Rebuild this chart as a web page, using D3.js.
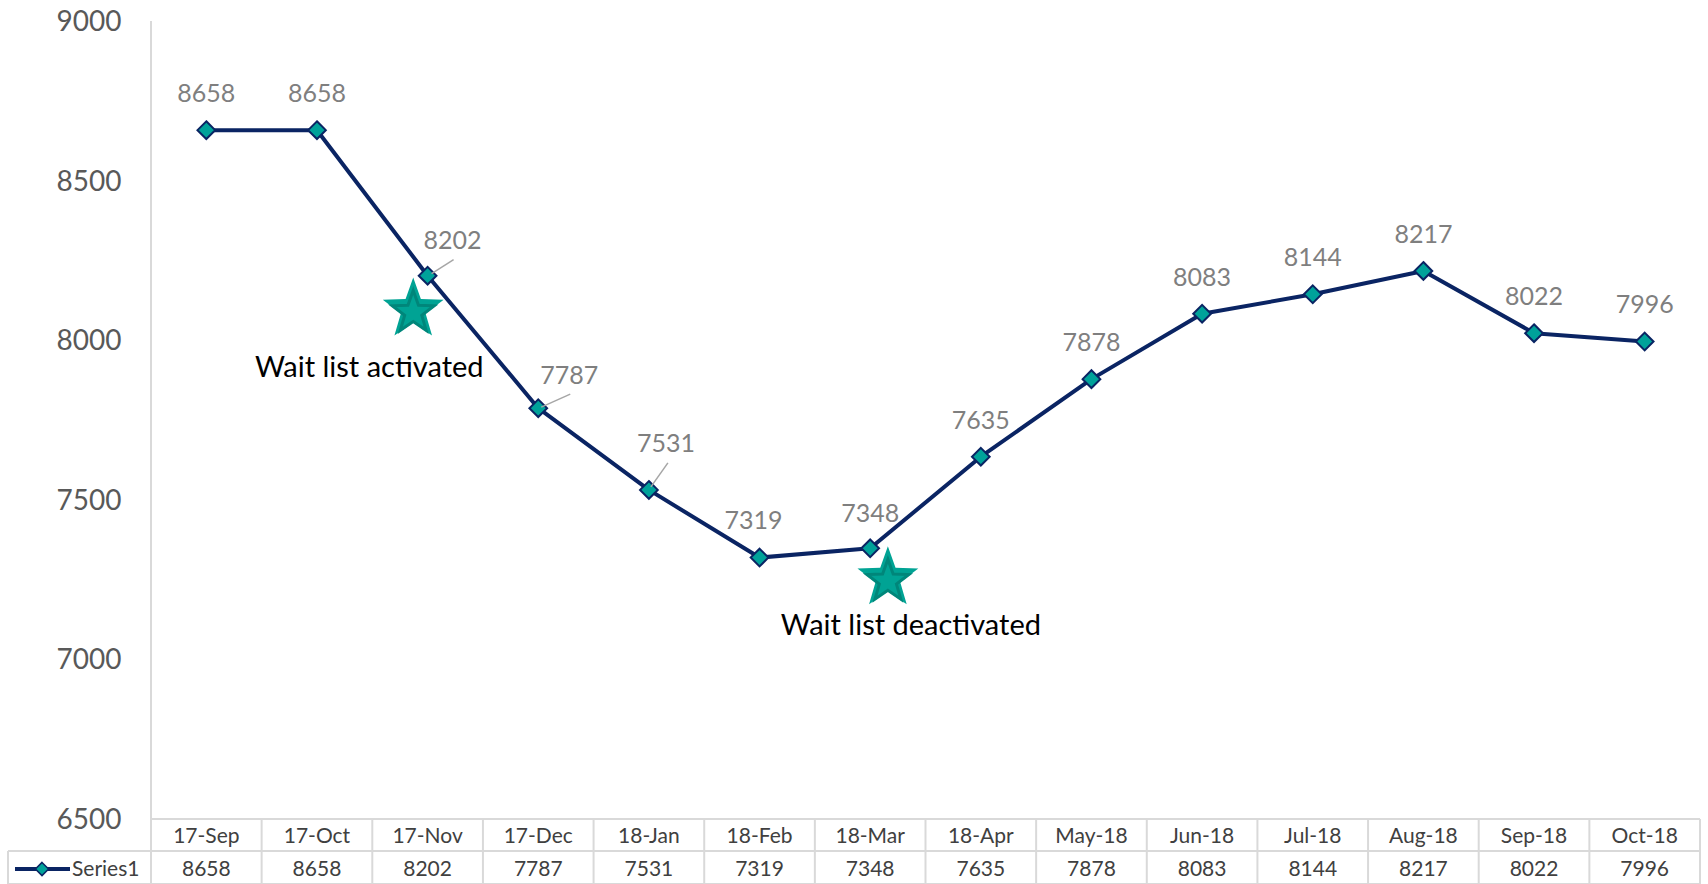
<!DOCTYPE html>
<html>
<head>
<meta charset="utf-8">
<script src="https://cdn.jsdelivr.net/npm/d3@7"></script>
<style>
  html, body { margin: 0; padding: 0; background: #fff; }
  svg { display: block; font-family: Lato, 'Noto Sans', sans-serif; }
</style>
</head>
<body>
<svg id="chart" width="1708" height="884"></svg>
<script>
// chart data
const categories = ['17-Sep', '17-Oct', '17-Nov', '17-Dec', '18-Jan', '18-Feb', '18-Mar',
  '18-Apr', 'May-18', 'Jun-18', 'Jul-18', 'Aug-18', 'Sep-18', 'Oct-18']
const values = [8658, 8658, 8202, 7787, 7531, 7319, 7348, 7635, 7878, 8083, 8144, 8217, 8022, 7996]
const yTicks = [6500, 7000, 7500, 8000, 8500, 9000]
const seriesName = 'Series1'
// annotations: position on the category index scale and value scale
const noteTexts = ['Wait list activated', 'Wait list deactivated']
const noteIndex = [1.87, 6.16]
const noteValues = [8096, 7254]

// layout
const plotLeft = 151
const plotRight = 1700
const plotTop = 21
const plotBottom = 819
const rowH = 32

const svg = d3.select('#chart')

const x = d3.scaleBand().domain(categories).range([plotLeft, plotRight])
const y = d3.scaleLinear().domain([6500, 9000]).range([plotBottom, plotTop])
const xi = d3.scaleLinear()
  .domain([0, categories.length - 1])
  .range([x(categories[0]) + x.bandwidth() / 2, x(categories[categories.length - 1]) + x.bandwidth() / 2])

// y axis line
svg.append('line')
  .attr('x1', plotLeft).attr('x2', plotLeft)
  .attr('y1', plotTop).attr('y2', plotBottom)
  .attr('stroke', '#d9d9d9').attr('stroke-width', 2)

// y tick labels
svg.append('g').selectAll('text')
  .data(yTicks)
  .join('text')
  .attr('x', 89)
  .attr('y', d => y(d) + 10)
  .attr('text-anchor', 'middle')
  .attr('font-size', 28)
  .attr('fill', '#595959')
  .text(d => d)

// data table (acts as x axis)
const table = svg.append('g')
const gridColor = '#d9d9d9'
table.append('line')
  .attr('x1', plotLeft).attr('x2', plotRight)
  .attr('y1', plotBottom).attr('y2', plotBottom)
  .attr('stroke', gridColor).attr('stroke-width', 2)
table.append('line')
  .attr('x1', 8).attr('x2', plotRight)
  .attr('y1', plotBottom + rowH).attr('y2', plotBottom + rowH)
  .attr('stroke', gridColor).attr('stroke-width', 2)
table.append('line')
  .attr('x1', 8).attr('x2', plotRight)
  .attr('y1', plotBottom + 2 * rowH + 1).attr('y2', plotBottom + 2 * rowH + 1)
  .attr('stroke', gridColor).attr('stroke-width', 2)
table.append('line')
  .attr('x1', 8).attr('x2', 8)
  .attr('y1', plotBottom + rowH).attr('y2', 884)
  .attr('stroke', gridColor).attr('stroke-width', 2)
table.selectAll('.col')
  .data(categories)
  .join('line')
  .attr('class', 'col')
  .attr('x1', d => x(d) + x.bandwidth()).attr('x2', d => x(d) + x.bandwidth())
  .attr('y1', plotBottom).attr('y2', 884)
  .attr('stroke', gridColor).attr('stroke-width', 2)
table.append('line')
  .attr('x1', plotLeft).attr('x2', plotLeft)
  .attr('y1', plotBottom).attr('y2', 884)
  .attr('stroke', gridColor).attr('stroke-width', 2)

table.selectAll('.cat')
  .data(categories)
  .join('text')
  .attr('class', 'cat')
  .attr('x', d => x(d) + x.bandwidth() / 2)
  .attr('y', plotBottom + 24)
  .attr('text-anchor', 'middle')
  .attr('font-size', 21)
  .attr('fill', '#404040')
  .text(d => d)

table.selectAll('.val')
  .data(values)
  .join('text')
  .attr('class', 'val')
  .attr('x', (d, i) => x(categories[i]) + x.bandwidth() / 2)
  .attr('y', plotBottom + rowH + 25)
  .attr('text-anchor', 'middle')
  .attr('font-size', 21)
  .attr('fill', '#404040')
  .text(d => d)

// legend key in the table
const navy = '#0a2463'
const teal = '#00a29a'
table.append('line')
  .attr('x1', 15).attr('x2', 70)
  .attr('y1', 869).attr('y2', 869)
  .attr('stroke', navy).attr('stroke-width', 4)
table.append('path')
  .attr('d', d3.symbol(d3.symbolDiamond2, 110)())
  .attr('transform', 'translate(42,869)')
  .attr('fill', teal).attr('stroke', navy).attr('stroke-width', 1.5)
table.append('text')
  .attr('x', 72).attr('y', 876)
  .attr('font-size', 21)
  .attr('fill', '#404040')
  .text(seriesName)

// series line
const line = d3.line()
  .x((d, i) => x(categories[i]) + x.bandwidth() / 2)
  .y(d => y(d))

svg.append('path')
  .datum(values)
  .attr('d', line)
  .attr('fill', 'none')
  .attr('stroke', navy)
  .attr('stroke-width', 4)
  .attr('stroke-linejoin', 'round')

svg.append('g').selectAll('path')
  .data(values)
  .join('path')
  .attr('d', d3.symbol(d3.symbolDiamond2, 200)())
  .attr('transform', (d, i) => `translate(${x(categories[i]) + x.bandwidth() / 2},${y(d)})`)
  .attr('fill', teal)
  .attr('stroke', navy)
  .attr('stroke-width', 2)

// data labels; some are moved off the line with a leader
const labelShift = { 2: [25, -27], 3: [31, -24], 4: [17, -38], 5: [-6, -29], 6: [0, -26] }
const leaders = { 2: [4, -2, 26, -16], 3: [3, -1, 32, -14], 4: [2, -3, 19, -27] }

const labels = svg.append('g')
labels.selectAll('text')
  .data(values)
  .join('text')
  .attr('x', (d, i) => x(categories[i]) + x.bandwidth() / 2 + (labelShift[i] ? labelShift[i][0] : 0))
  .attr('y', (d, i) => y(d) + (labelShift[i] ? labelShift[i][1] : -28))
  .attr('text-anchor', 'middle')
  .attr('font-size', 25)
  .attr('fill', '#7f7f7f')
  .text(d => d)

labels.selectAll('line')
  .data(Object.keys(leaders).map(Number))
  .join('line')
  .attr('x1', i => x(categories[i]) + x.bandwidth() / 2 + leaders[i][0])
  .attr('y1', i => y(values[i]) + leaders[i][1])
  .attr('x2', i => x(categories[i]) + x.bandwidth() / 2 + leaders[i][2])
  .attr('y2', i => y(values[i]) + leaders[i][3])
  .attr('stroke', '#a6a6a6')
  .attr('stroke-width', 1.5)

// stars with notes
function starPath (r1, r2) {
  const pts = d3.range(10).map(k => {
    const a = k * Math.PI / 5
    const r = k % 2 ? r2 : r1
    return [Math.sin(a) * r, -Math.cos(a) * r]
  })
  return 'M' + pts.join('L') + 'Z'
}

const notes = svg.append('g')
noteTexts.forEach((t, k) => {
  const cx = xi(noteIndex[k])
  const cy = y(noteValues[k])
  const g = notes.append('g').attr('transform', `translate(${cx},${cy})`)
  g.append('path')
    .attr('d', starPath(32, 13))
    .attr('fill', '#00a394')
  g.append('path')
    .attr('d', starPath(22, 9))
    .attr('fill', '#00a394')
    .attr('stroke', '#00867a')
    .attr('stroke-width', 3)
    .attr('transform', 'translate(0,3)')
  const dx = k === 0 ? -44 : 23
  const dy = k === 0 ? 67 : 57
  g.append('text')
    .attr('x', dx).attr('y', dy)
    .attr('text-anchor', 'middle')
    .attr('font-size', 29)
    .attr('fill', '#000')
    .text(t)
})
</script>
</body>
</html>
